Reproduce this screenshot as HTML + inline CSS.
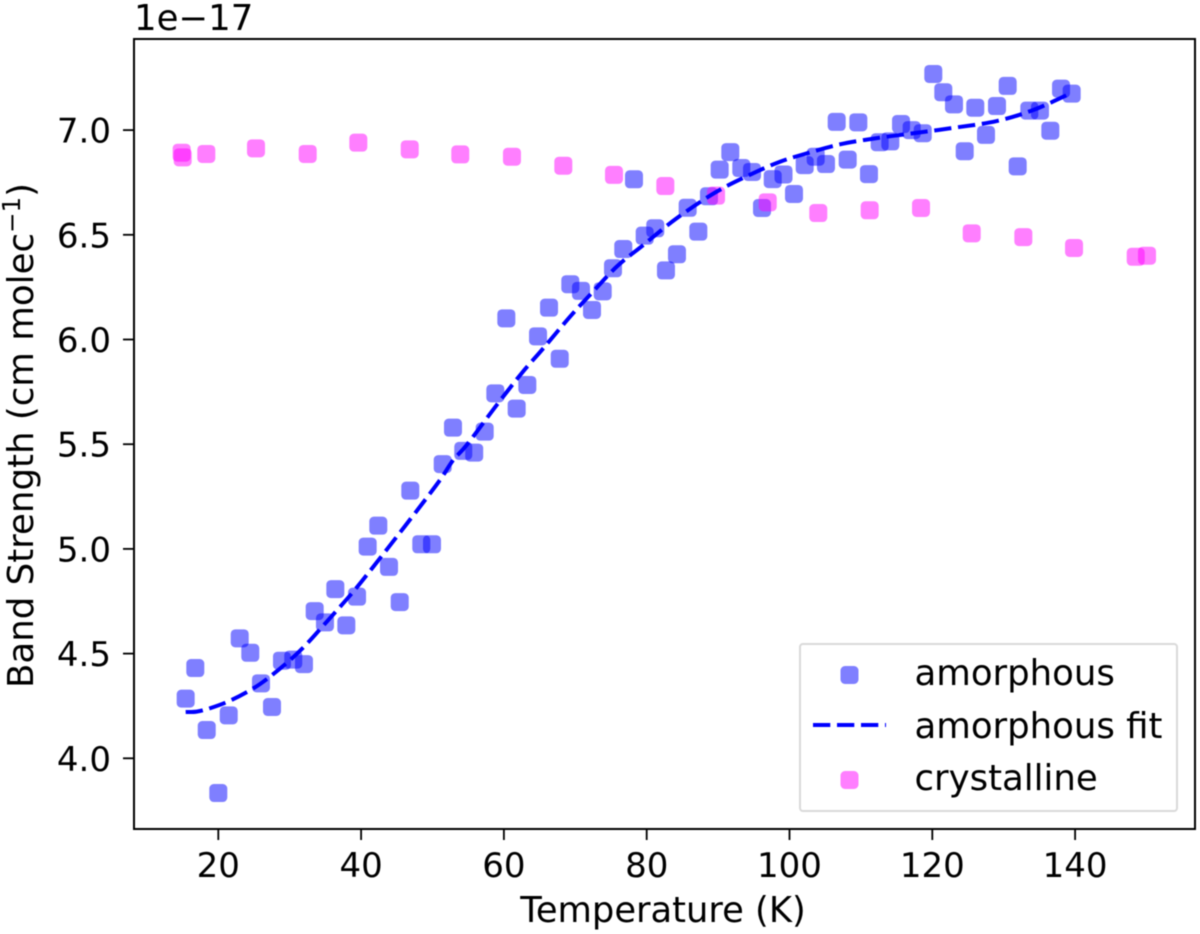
<!DOCTYPE html>
<html lang="en">
<head>
<meta charset="utf-8">
<title>Band Strength vs Temperature</title>
<style>
html,body{margin:0;padding:0;background:#fff;}
svg{display:block;filter:blur(0.5px);}
text{font-family:"DejaVu Sans","Liberation Sans",sans-serif;fill:#000;}
</style>
</head>
<body>
<svg id="chart" xmlns="http://www.w3.org/2000/svg" width="1200" height="934" viewBox="0 0 1200 934">
  <rect x="0" y="0" width="1200" height="934" fill="#fff"/>
  <g id="marks"></g>
  <rect x="134" y="39" width="1061" height="790" fill="none" stroke="#000" stroke-width="2"/>
  <g id="ticks"></g>
  <text x="134" y="30" font-size="35.5">1e−17</text>
  <text x="663" y="922" font-size="35.3" text-anchor="middle">Temperature (K)</text>
  <text transform="translate(33,435.5) rotate(-90)" font-size="35.6" text-anchor="middle">Band Strength (cm molec<tspan font-size="24.5" dy="-13">−1</tspan><tspan dy="13">)</tspan></text>
  <g>
    <rect x="800" y="644" width="377" height="167" rx="3" fill="#fff" fill-opacity="0.8" stroke="#d9d9d9" stroke-width="2"/>
    <rect x="840.5" y="666" width="18" height="18" rx="4.5" fill="#0000ff" fill-opacity="0.5"/>
    <line x1="813" y1="725" x2="886" y2="725" stroke="#0000ff" stroke-width="4" stroke-dasharray="17.3 6.7"/>
    <rect x="840.5" y="771" width="18" height="18" rx="4.5" fill="#ff00ff" fill-opacity="0.5"/>
    <text x="914.5" y="685" font-size="35.5">amorphous</text>
    <text x="914.5" y="738" font-size="35.5">amorphous fit</text>
    <text x="914.5" y="790" font-size="35.5">crystalline</text>
  </g>
</svg>
<script>
const xTickValues = [20, 40, 60, 80, 100, 120, 140];
const yTickValues = [4.0, 4.5, 5.0, 5.5, 6.0, 6.5, 7.0];
const yTickLabels = ["4.0", "4.5", "5.0", "5.5", "6.0", "6.5", "7.0"];

const amorphousTemp = [15.43,16.78,18.38,20.00,21.46,23.00,24.48,25.98,27.52,28.92,30.50,32.00,33.50,34.94,36.39,37.93,39.43,40.92,42.41,43.91,45.41,46.89,48.43,49.93,51.43,52.87,54.31,55.84,57.31,58.80,60.34,61.79,63.28,64.78,66.32,67.82,69.30,70.80,72.34,73.84,75.28,76.72,78.22,79.72,81.20,82.70,84.24,85.74,87.23,88.72,90.22,91.71,93.25,94.75,96.15,97.65,99.16,100.63,102.13,103.67,105.11,106.61,108.15,109.64,111.13,112.63,114.12,115.62,117.11,118.66,120.14,121.54,123.04,124.54,126.02,127.52,129.06,130.56,131.96,133.59,135.08,136.53,138.03,139.52];
const amorphousBand = [4.285,4.431,4.135,3.834,4.205,4.573,4.504,4.358,4.245,4.466,4.471,4.450,4.703,4.649,4.808,4.635,4.772,5.011,5.111,4.914,4.746,5.278,5.022,5.022,5.405,5.579,5.468,5.460,5.560,5.743,6.101,5.670,5.783,6.015,6.152,5.908,6.264,6.232,6.141,6.230,6.340,6.432,6.765,6.496,6.531,6.330,6.407,6.629,6.515,6.684,6.811,6.895,6.819,6.800,6.628,6.766,6.788,6.695,6.833,6.873,6.838,7.039,6.859,7.037,6.790,6.942,6.946,7.029,7.000,6.985,7.268,7.181,7.123,6.899,7.107,6.977,7.115,7.211,6.827,7.093,7.093,6.997,7.198,7.174];

const fitTemp = [15.43,16.97,18.84,21.64,24.9,27.24,30.04,32.38,35.18,38.91,41.71,44.99,48.25,51.05,52.91,54.79,58.99,62.49,65.52,69.26,72.06,75.8,79.52,84.2,89.8,94.93,98.67,101.93,107.07,112.68,118.28,123.42,129.02,134.15,139.42];
const fitBand = [4.221,4.223,4.239,4.275,4.334,4.390,4.469,4.546,4.652,4.796,4.915,5.058,5.202,5.329,5.425,5.496,5.687,5.839,5.958,6.109,6.213,6.348,6.451,6.579,6.706,6.794,6.849,6.884,6.932,6.964,6.989,7.013,7.043,7.096,7.176];

const crystallineTemp = [14.87,15.01,18.32,25.28,32.52,39.61,46.81,53.89,61.13,68.32,75.42,82.61,89.71,96.95,104.03,111.23,118.42,125.52,132.75,139.85,148.49,150.07];
const crystallineBand = [6.892,6.870,6.886,6.913,6.886,6.940,6.908,6.884,6.873,6.830,6.786,6.733,6.687,6.655,6.604,6.617,6.628,6.507,6.489,6.437,6.395,6.400];

const SVG_NS = "http://www.w3.org/2000/svg";
function xScale(v) { return 218.3 + (v - 20) * 7.14; }
function yScale(v) { return 758.3 - (v - 4) * 209.4; }

const marks = document.getElementById("marks");
const ticks = document.getElementById("ticks");
const MARKER = 18;

function addPoint(t, b, color, name) {
  const r = document.createElementNS(SVG_NS, "rect");
  r.setAttribute("x", xScale(t) - MARKER / 2);
  r.setAttribute("y", yScale(b) - MARKER / 2);
  r.setAttribute("width", MARKER);
  r.setAttribute("height", MARKER);
  r.setAttribute("rx", 4.5);
  r.setAttribute("fill", color);
  r.setAttribute("fill-opacity", 0.5);
  
  
  marks.appendChild(r);
}

amorphousTemp.forEach(function (t, i) {
  addPoint(t, amorphousBand[i], "#0000ff", "amorphous-point");
});

crystallineTemp.forEach(function (t, i) {
  addPoint(t, crystallineBand[i], "#ff00ff", "crystalline-point");
});

// Smooth path through the fit samples (Catmull-Rom segments).
function smoothPath(xs, ys) {
  const px = xs.map(xScale);
  const py = ys.map(yScale);
  let d = "M" + px[0].toFixed(2) + " " + py[0].toFixed(2);
  for (let i = 0; i < px.length - 1; i++) {
    const a = Math.max(i - 1, 0);
    const c = i + 1;
    const e = Math.min(i + 2, px.length - 1);
    const c1x = px[i] + (px[c] - px[a]) / 6;
    const c1y = py[i] + (py[c] - py[a]) / 6;
    const c2x = px[c] - (px[e] - px[i]) / 6;
    const c2y = py[c] - (py[e] - py[i]) / 6;
    d += " C" + c1x.toFixed(2) + " " + c1y.toFixed(2) + " " + c2x.toFixed(2) + " " + c2y.toFixed(2) + " " + px[c].toFixed(2) + " " + py[c].toFixed(2);
  }
  return d;
}

const fitLine = document.createElementNS(SVG_NS, "path");
fitLine.setAttribute("d", smoothPath(fitTemp, fitBand));
fitLine.setAttribute("fill", "none");
fitLine.setAttribute("stroke", "#0000ff");
fitLine.setAttribute("stroke-width", 4);
fitLine.setAttribute("stroke-dasharray", "17.3 6.7");


marks.appendChild(fitLine);

xTickValues.forEach(function (v) {
  const px = xScale(v);
  const tick = document.createElementNS(SVG_NS, "line");
  tick.setAttribute("x1", px);
  tick.setAttribute("x2", px);
  tick.setAttribute("y1", 829);
  tick.setAttribute("y2", 840);
  tick.setAttribute("stroke", "#000");
  tick.setAttribute("stroke-width", 1.8);
  
  
  ticks.appendChild(tick);
  const label = document.createElementNS(SVG_NS, "text");
  label.setAttribute("x", px);
  label.setAttribute("y", 877);
  label.setAttribute("font-size", 34);
  label.setAttribute("text-anchor", "middle");
  
  
  label.textContent = String(v);
  ticks.appendChild(label);
});

yTickValues.forEach(function (v, i) {
  const py = yScale(v);
  const tick = document.createElementNS(SVG_NS, "line");
  tick.setAttribute("x1", 123);
  tick.setAttribute("x2", 134);
  tick.setAttribute("y1", py);
  tick.setAttribute("y2", py);
  tick.setAttribute("stroke", "#000");
  tick.setAttribute("stroke-width", 1.8);
  
  
  ticks.appendChild(tick);
  const label = document.createElementNS(SVG_NS, "text");
  label.setAttribute("x", 111);
  label.setAttribute("y", py + 12.5);
  label.setAttribute("font-size", 34);
  label.setAttribute("text-anchor", "end");
  
  
  label.textContent = yTickLabels[i];
  ticks.appendChild(label);
});
</script>
</body>
</html>
